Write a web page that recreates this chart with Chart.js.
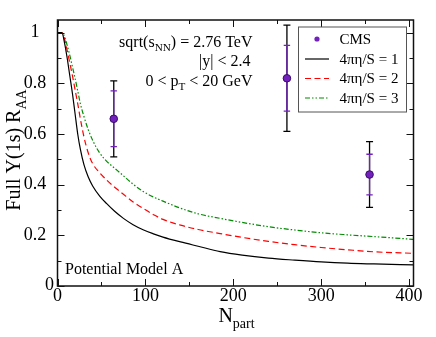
<!DOCTYPE html>
<html><head><meta charset="utf-8">
<script src="https://cdn.jsdelivr.net/npm/chart.js@4"></script>
<style>html,body{margin:0;padding:0;background:#fff}#wrap{width:436px;height:337px;position:relative}</style>
</head><body><div id="wrap"><canvas id="c"></canvas></div>
<script>
// ---- data ----
const nPart   = [0,5,8,11,14,17,20,23,26,30,35,40,48,56,65,75,86,98,110,120,140,160,185,210,240,270,300,330,360,405];
const raaEta1 = [1,1,0.96,0.9,0.83,0.76,0.68,0.6,0.54,0.48,0.43,0.395,0.355,0.325,0.295,0.267,0.242,0.221,0.205,0.193,0.174,0.157,0.136,0.122,0.11,0.102,0.095,0.09,0.087,0.083];
const raaEta2 = [1,1,0.975,0.93,0.88,0.83,0.775,0.72,0.66,0.59,0.525,0.483,0.447,0.418,0.39,0.362,0.332,0.305,0.28,0.263,0.24,0.223,0.207,0.192,0.176,0.163,0.152,0.143,0.135,0.129];
const raaEta3 = [1,1,0.985,0.95,0.91,0.865,0.82,0.77,0.72,0.67,0.617,0.575,0.525,0.492,0.465,0.435,0.402,0.372,0.35,0.335,0.307,0.285,0.267,0.251,0.234,0.221,0.21,0.202,0.195,0.184];
const cmsNpart = [64, 261, 355];
const cmsRaa   = [0.66, 0.82, 0.44];
const cmsStat  = [0.11, 0.13, 0.08];
const cmsSyst  = [0.15, 0.21, 0.13];
const xTicks = [0,100,200,300,400];
const xTickLabels = ['0','100','200','300','400'];
const xMinorTicks = [50,150,250,350];
const yTicks = [0,0.2,0.4,0.6,0.8,1];
const yTickLabels = ['0','0.2','0.4','0.6','0.8','1'];
const yMinorTicks = [0.1,0.3,0.5,0.7,0.9];
const seriesLabels = ['CMS','4πη/S = 1','4πη/S = 2','4πη/S = 3'];

const SERIF = '"Liberation Serif","DejaVu Serif",serif';
const COL_CMS = 'rgb(114,33,188)';
const COL_RED = 'rgb(255,0,0)';
const COL_GRN = 'rgb(0,139,0)';
const DASH_RED = [6,3.5];
const DASH_GRN = [5,2,1.5,2,1.5,2];

function pts(xs, ys){ return xs.map((x,i)=>({x:x,y:ys[i]})); }

function richWidth(ctx, segs, size){
  let w=0;
  for(const s of segs){ ctx.font=(s[1]?size*0.7:size)+'px '+SERIF; w+=ctx.measureText(s[0]).width; }
  return w;
}
function drawRich(ctx, segs, x, y, size, align){
  const w=richWidth(ctx,segs,size);
  let cx = align==='right'? x-w : align==='center'? x-w/2 : x;
  ctx.textAlign='left'; ctx.textBaseline='alphabetic';
  for(const s of segs){
    const sz = s[1]? size*0.7 : size;
    ctx.font = sz+'px '+SERIF;
    ctx.fillText(s[0], cx, s[1]? y+size*0.3 : y);
    cx += ctx.measureText(s[0]).width;
  }
}

const decor = {
  id:'decor',
  beforeDatasetDraw(chart, args){
    if(args.index!==0) return;
    const ctx=chart.ctx, xs=chart.scales.x, ys=chart.scales.y;
    ctx.save();
    for(let i=0;i<cmsNpart.length;i++){
      const px=xs.getPixelForValue(cmsNpart[i]);
      const bars=[[cmsSyst[i],'#000',3.5],[cmsStat[i],COL_CMS,3.2]];
      for(const b of bars){
        const t=ys.getPixelForValue(cmsRaa[i]+b[0]), bo=ys.getPixelForValue(cmsRaa[i]-b[0]);
        ctx.strokeStyle=b[1]; ctx.lineWidth=1.3; ctx.setLineDash([]);
        ctx.beginPath();
        ctx.moveTo(px,t); ctx.lineTo(px,bo);
        ctx.moveTo(px-b[2],t); ctx.lineTo(px+b[2],t);
        ctx.moveTo(px-b[2],bo); ctx.lineTo(px+b[2],bo);
        ctx.stroke();
      }
    }
    ctx.restore();
  },
  afterDraw(chart){
    const ctx=chart.ctx, a=chart.chartArea, xs=chart.scales.x, ys=chart.scales.y;
    ctx.save();
    ctx.fillStyle='#000'; ctx.strokeStyle='#111'; ctx.setLineDash([]);
    // frame
    ctx.lineWidth=1.5;
    ctx.strokeRect(a.left,a.top,a.right-a.left,a.bottom-a.top);
    // ticks (inside, all four sides)
    ctx.lineWidth=1;
    ctx.beginPath();
    const tick=(v,len,isX)=>{
      if(isX){const p=Math.round(xs.getPixelForValue(v))+0.5;
        ctx.moveTo(p,a.bottom); ctx.lineTo(p,a.bottom-len);
        ctx.moveTo(p,a.top); ctx.lineTo(p,a.top+len);}
      else{const p=Math.round(ys.getPixelForValue(v))+0.5;
        ctx.moveTo(a.left,p); ctx.lineTo(a.left+len,p);
        ctx.moveTo(a.right,p); ctx.lineTo(a.right-len,p);}
    };
    xTicks.forEach(v=>tick(v,7,true)); xMinorTicks.forEach(v=>tick(v,4,true));
    yTicks.forEach(v=>tick(v,7,false)); yMinorTicks.forEach(v=>tick(v,4,false));
    ctx.stroke();
    // tick labels
    ctx.font='18px '+SERIF; ctx.textBaseline='middle'; ctx.textAlign='center';
    xTicks.forEach((v,i)=>ctx.fillText(xTickLabels[i], xs.getPixelForValue(v), a.bottom+10));
    yTicks.forEach((v,i)=>{
      const lx = v===0 ? a.left-8 : a.left-22.5;
      ctx.fillText(yTickLabels[i], lx, ys.getPixelForValue(v)+ (v===0?-1:0));
    });
    // axis titles
    drawRich(ctx,[['N',0],['part',1]], (a.left+a.right)/2+1, 322, 20, 'center');
    ctx.save(); ctx.translate(20,150); ctx.rotate(-Math.PI/2);
    drawRich(ctx,[['Full Υ(1s) R',0],['AA',1]],0,0,20,'center');
    ctx.restore();
    // annotations
    drawRich(ctx,[['sqrt(s',0],['NN',1],[') = 2.76 TeV',0]],252.5,46.5,16,'right');
    drawRich(ctx,[['|y| < 2.4',0]],250.5,65.5,16,'right');
    drawRich(ctx,[['0 < p',0],['T',1],[' < 20 GeV',0]],252.5,85.5,16,'right');
    drawRich(ctx,[['Potential Model A',0]],65,274,16,'left');
    // legend
    const lx0=298.5, ly0=27, lw=108, lh=85;
    ctx.fillStyle='#fff'; ctx.fillRect(lx0,ly0,lw,lh);
    ctx.strokeStyle='#555'; ctx.lineWidth=1; ctx.strokeRect(lx0,ly0,lw,lh);
    const rows=[39,58.5,78,97.5];
    const styles=[null,['#000',[]],[COL_RED,DASH_RED],[COL_GRN,DASH_GRN]];
    rows.forEach((ry,i)=>{
      if(i===0){
        ctx.fillStyle=COL_CMS; ctx.beginPath(); ctx.arc(317,ry,2.6,0,Math.PI*2); ctx.fill();
      } else {
        ctx.strokeStyle=styles[i][0]; ctx.setLineDash(styles[i][1]); ctx.lineWidth=1.2;
        ctx.beginPath(); ctx.moveTo(305,ry+0.5); ctx.lineTo(329,ry+0.5); ctx.stroke();
        ctx.setLineDash([]);
      }
      ctx.fillStyle='#000';
      drawRich(ctx,[[seriesLabels[i],0]],339.5,ry+5,15,'left');
    });
    ctx.restore();
  }
};

new Chart(document.getElementById('c'),{
  type:'line',
  data:{datasets:[
    {label:seriesLabels[0], data:pts(cmsNpart,cmsRaa), showLine:false, pointRadius:3.8, pointHoverRadius:3.8,
     pointBackgroundColor:COL_CMS, pointBorderColor:'#3a0a6a', pointBorderWidth:1},
    {label:seriesLabels[1], data:pts(nPart,raaEta1), borderColor:'#000', borderWidth:1.2, pointRadius:0, cubicInterpolationMode:'monotone'},
    {label:seriesLabels[2], data:pts(nPart,raaEta2), borderColor:COL_RED, borderWidth:1.2, borderDash:DASH_RED, pointRadius:0, cubicInterpolationMode:'monotone'},
    {label:seriesLabels[3], data:pts(nPart,raaEta3), borderColor:COL_GRN, borderWidth:1.2, borderDash:DASH_GRN, pointRadius:0, cubicInterpolationMode:'monotone'}
  ]},
  options:{
    responsive:true, maintainAspectRatio:false, animation:false, devicePixelRatio:1,
    layout:{padding:{left:0,top:20,right:22.5,bottom:0}},
    plugins:{legend:{display:false},tooltip:{enabled:false}},
    events:[],
    scales:{
      x:{type:'linear',min:0,max:405,grid:{display:false},border:{display:false},ticks:{display:false},
         afterFit(s){s.height=51;}},
      y:{type:'linear',min:0,max:1.05,grid:{display:false},border:{display:false},ticks:{display:false},
         afterFit(s){s.width=57.5;}}
    }
  },
  plugins:[decor]
});
</script>
</body></html>
